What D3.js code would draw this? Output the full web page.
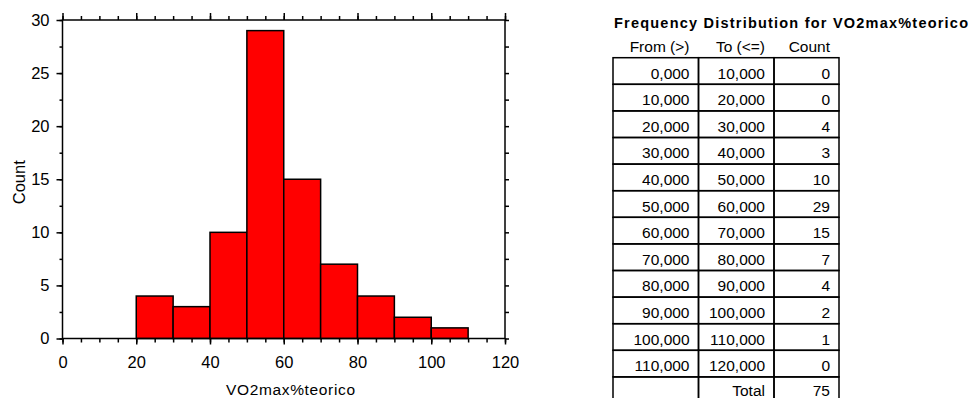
<!DOCTYPE html>
<html>
<head>
<meta charset="utf-8">
<script src="https://cdn.jsdelivr.net/npm/d3@7"></script>
<style>
body { margin: 0; background: #fff; }
svg text { font-family: "Liberation Sans", Arial, sans-serif; fill: #000; }
</style>
</head>
<body>
<svg id="chart" width="970" height="398"></svg>
<script>
// bins of the histogram
var binFrom = [0, 10, 20, 30, 40, 50, 60, 70, 80, 90, 100, 110];
var binTo = [10, 20, 30, 40, 50, 60, 70, 80, 90, 100, 110, 120];
var counts = [0, 0, 4, 3, 10, 29, 15, 7, 4, 2, 1, 0];
var xTicks = [0, 20, 40, 60, 80, 100, 120];
var yTicks = [0, 5, 10, 15, 20, 25, 30];
var tableTitle = "Frequency Distribution for VO2max%teorico";
var tableHeads = ["From (>)", "To (<=)", "Count"];

var margin = {top: 20, right: 465, bottom: 59.5, left: 62.5}
  , width = 970 - margin.left - margin.right
  , height = 398 - margin.top - margin.bottom;

var svg = d3.select("#chart");
var g = svg.append("g").attr("transform", "translate(" + margin.left + "," + margin.top + ")");

var x = d3.scaleLinear().domain([0, 120]).range([0, width]);
var y = d3.scaleLinear().domain([0, 30]).range([height, 0]);

// bars
g.append("g").selectAll("rect")
  .data(counts)
  .enter()
  .append("rect")
    .attr("x", function (d, i) { return x(binFrom[i]); })
    .attr("y", function (d) { return y(d); })
    .attr("width", function (d, i) { return x(binTo[i]) - x(binFrom[i]); })
    .attr("height", function (d) { return height - y(d); })
    .style("fill", "#ff0000")
    .style("stroke", "#000")
    .style("stroke-width", 1.5);

// axes: major ticks and minor ticks, all pointing out
function axisStyle(sel) {
  sel.select(".domain").remove();
  sel.selectAll("line").style("stroke", "#000").style("stroke-width", 1.5);
  sel.selectAll("text").style("font-size", "16.5px");
}
var xMinor = d3.range(0, 121, 5);
var yMinor = d3.range(0, 30.1, 2.5);

g.append("g").attr("transform", "translate(0," + height + ")")
  .call(d3.axisBottom(x).tickValues(xMinor).tickSize(4).tickFormat(""))
  .call(axisStyle);
g.append("g").attr("transform", "translate(0," + height + ")")
  .call(d3.axisBottom(x).tickValues(xTicks).tickSize(6).tickPadding(12))
  .call(axisStyle);
g.append("g")
  .call(d3.axisTop(x).tickValues(xMinor).tickSize(4).tickFormat(""))
  .call(axisStyle);
g.append("g")
  .call(d3.axisTop(x).tickValues(xTicks).tickSize(7).tickFormat(""))
  .call(axisStyle);
g.append("g")
  .call(d3.axisLeft(y).tickValues(yMinor).tickSize(3).tickFormat(""))
  .call(axisStyle);
g.append("g")
  .call(d3.axisLeft(y).tickValues(yTicks).tickSize(6).tickPadding(7))
  .call(axisStyle);
g.append("g").attr("transform", "translate(" + width + ",0)")
  .call(d3.axisRight(y).tickValues(yMinor).tickSize(4).tickFormat(""))
  .call(axisStyle);

// frame
g.append("rect")
  .attr("width", width).attr("height", height)
  .style("fill", "none").style("stroke", "#000").style("stroke-width", 1.5);

g.append("text")
  .attr("x", 163.5).attr("y", height + 56)
  .attr("textLength", 129)
  .style("font-size", "15.5px")
  .text("VO2max%teorico");

g.append("text")
  .attr("transform", "translate(-37.5," + (height / 2 + 3) + ") rotate(-90)")
  .style("text-anchor", "middle")
  .style("font-size", "16.5px")
  .text("Count");

// frequency table
var fmt = d3.formatLocale({decimal: ",", thousands: ".", grouping: [3], currency: ["", ""]}).format(".3f");
var colEdges = [613, 698.5, 774, 839];
var rowTop = 57.7, rowH = 26.6;
var rows = binFrom.map(function (f, i) { return [fmt(f), fmt(binTo[i]), String(counts[i])]; });
rows.push(["", "Total", String(d3.sum(counts))]);

var t = svg.append("g");
t.append("text")
  .attr("x", 614).attr("y", 27.5)
  .attr("textLength", 354)
  .style("font-size", "14.5px").style("font-weight", "bold")
  .text(tableTitle);

t.selectAll(".head")
  .data(tableHeads)
  .enter()
  .append("text")
    .attr("x", function (d, i) { return colEdges[i + 1] - 9; })
    .attr("y", 51.5)
    .style("text-anchor", "end")
    .style("font-size", "15.5px")
    .text(function (d) { return d; });

rows.forEach(function (r, ri) {
  var top = rowTop + ri * rowH;
  r.forEach(function (v, ci) {
    t.append("rect")
      .attr("x", colEdges[ci]).attr("y", top)
      .attr("width", colEdges[ci + 1] - colEdges[ci]).attr("height", rowH)
      .style("fill", "none").style("stroke", "#000").style("stroke-width", 1.5);
    t.append("text")
      .attr("x", colEdges[ci + 1] - 9)
      .attr("y", Math.min(top + 20.8, 396))
      .style("text-anchor", "end")
      .style("font-size", "15.5px")
      .text(v);
  });
});
</script>
</body>
</html>
